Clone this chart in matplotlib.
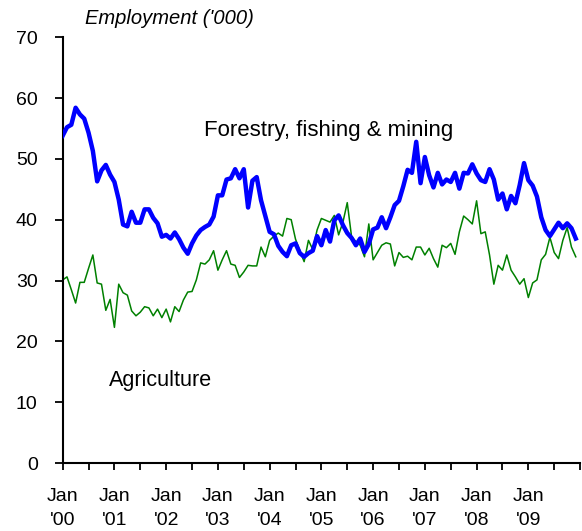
import matplotlib
matplotlib.use("Agg")
import matplotlib.pyplot as plt
import numpy as np

plt.rcParams['font.family'] = ['Liberation Sans', 'DejaVu Sans']

# Monthly values, Jan 2000 .. Dec 2009 ('000)
forestry = [
    53.8, 55.2, 55.6, 58.4, 57.3, 56.6, 54.3, 51.3, 46.3, 48.1, 49.0, 47.4,  # 2000
    46.2, 43.3, 39.2, 38.9, 41.3, 39.5, 39.5, 41.7, 41.7, 40.3, 39.4, 37.2,  # 2001
    37.5, 36.9, 37.9, 36.8, 35.4, 34.4, 36.1, 37.4, 38.3, 38.8, 39.2, 40.5,  # 2002
    44.0, 44.0, 46.6, 46.8, 48.3, 46.8, 48.3, 42.0, 46.4, 47.0, 43.2, 40.6,  # 2003
    38.0, 37.6, 35.7, 34.7, 34.0, 35.8, 36.1, 34.5, 33.9, 34.5, 34.9, 37.3,  # 2004
    35.8, 38.3, 36.4, 39.9, 40.7, 39.1, 37.8, 37.0, 35.8, 36.9, 34.7, 36.0,  # 2005
    38.4, 38.7, 40.4, 38.6, 40.4, 42.4, 43.1, 45.5, 48.2, 47.7, 52.8, 46.0,  # 2006
    50.3, 47.3, 45.3, 47.7, 45.8, 46.6, 46.2, 47.7, 45.1, 47.7, 47.6, 49.1,  # 2007
    47.6, 46.5, 46.2, 48.3, 46.6, 43.3, 44.3, 41.7, 43.9, 42.7, 45.7, 49.3,  # 2008
    46.5, 45.6, 43.8, 40.4, 38.3, 37.3, 38.4, 39.5, 38.6, 39.4, 38.6, 36.9,  # 2009
]
agriculture = [
    30.1, 30.6, 28.5, 26.3, 29.7, 29.7, 32.0, 34.2, 29.6, 29.4, 25.1, 26.9,  # 2000
    22.3, 29.4, 28.0, 27.6, 25.0, 24.2, 24.8, 25.7, 25.5, 24.2, 25.3, 23.9,  # 2001
    25.3, 23.2, 25.7, 24.9, 26.8, 28.1, 28.2, 30.1, 32.9, 32.7, 33.4, 34.9,  # 2002
    31.7, 33.4, 34.9, 32.7, 32.5, 30.5, 31.4, 32.5, 32.4, 32.4, 35.5, 33.9,  # 2003
    36.6, 37.3, 37.8, 37.3, 40.2, 40.0, 36.8, 34.9, 33.1, 36.6, 35.1, 38.3,  # 2004
    40.2, 39.9, 39.6, 40.7, 37.5, 39.6, 42.8, 37.2, 36.4, 35.8, 33.9, 39.3,  # 2005
    33.4, 34.6, 35.8, 36.2, 36.0, 32.4, 34.6, 33.8, 34.0, 33.4, 35.5, 35.5,  # 2006
    34.2, 35.3, 33.6, 32.2, 35.8, 35.4, 36.1, 34.3, 38.0, 40.6, 40.0, 39.3,  # 2007
    43.1, 37.7, 38.0, 34.2, 29.4, 32.5, 31.7, 34.2, 31.7, 30.6, 29.4, 30.3,  # 2008
    27.2, 29.6, 30.1, 33.4, 34.3, 37.1, 34.6, 33.6, 36.6, 38.7, 35.5, 33.9,  # 2009
]
year_labels = ["'00", "'01", "'02", "'03", "'04", "'05", "'06", "'07", "'08", "'09"]
y_ticks = [0, 10, 20, 30, 40, 50, 60, 70]

months = np.arange(len(forestry))

fig = plt.figure(figsize=(5.82, 5.31), dpi=100)
ax = fig.add_axes([0.1077, 0.128, 0.889, 0.802])

ax.plot(months, agriculture, color='#008000', lw=1.1, zorder=2)
ax.plot(months, forestry, color='#0000FF', lw=3.2, zorder=3, solid_joinstyle='round')

ax.set_xlim(0, 120)
ax.set_ylim(0, 70)
ax.set_yticks(y_ticks)
ax.set_yticklabels([str(v) for v in y_ticks], fontsize=14)

xt = np.arange(0, 121, 6)
ax.set_xticks(xt)
labels = []
for t in xt:
    if t % 12 == 0 and t // 12 < len(year_labels):
        labels.append("Jan\n" + year_labels[t // 12])
    else:
        labels.append("")
ax.set_xticklabels(labels, fontsize=14, linespacing=1.5)

for s in ['top', 'right']:
    ax.spines[s].set_visible(False)
for s in ['left', 'bottom']:
    ax.spines[s].set_linewidth(1.5)
    ax.spines[s].set_color('black')
ax.tick_params(axis='y', direction='out', length=6, width=1.3, pad=12)
ax.tick_params(axis='x', direction='out', length=5, width=1.3, pad=13)

ax.text(61.6, 54.7, "Forestry, fishing & mining", fontsize=16, ha='center', va='center')
ax.text(22.6, 13.6, "Agriculture", fontsize=15.5, ha='center', va='center')
ax.text(0.043, 73.1, "Employment ('000)", fontsize=14.5, style='italic', ha='left', va='center',
        transform=ax.get_yaxis_transform(), clip_on=False)

fig.savefig("out.png", dpi=100)
